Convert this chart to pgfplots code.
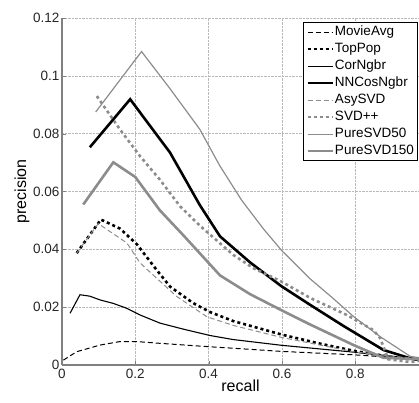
\documentclass[border=0pt]{standalone}
\usepackage{pgfplots}
\pgfplotsset{compat=1.18}
\usepackage{fontspec}
\setmainfont{Liberation Sans}
\definecolor{lg}{RGB}{140,140,140}
\begin{document}
\begin{tikzpicture}
\path[use as bounding box] (-62pt,-37pt) rectangle (357pt,365pt);
\begin{axis}[
  at={(0,0)}, anchor=south west,
  scale only axis, width=357pt, height=347pt,
  xmin=0, xmax=0.974, ymin=0, ymax=0.12,
  axis lines=left, axis line style={-, draw=gray, line width=1.2pt},
  xtick={0,0.2,0.4,0.6,0.8}, ytick={0,0.02,0.04,0.06,0.08,0.1,0.12},
  scaled y ticks=false, scaled x ticks=false,
  /pgf/number format/fixed, /pgf/number format/precision=2,
  /pgf/number format/assume math mode=true,
  tick label style={font=\fontsize{13.5}{15}\selectfont, text=black!85},
  xticklabel style={yshift=-1pt},
  yticklabel style={xshift=1pt},
  xlabel={recall}, ylabel={precision},
  label style={font=\fontsize{16}{18}\selectfont},
  xlabel style={yshift=6pt},
  ylabel style={yshift=-3pt},
  grid=major, grid style={densely dotted, gray!55, line width=0.6pt},
  tick style={draw=gray}, tick align=inside,
  legend style={at={(0.998,0.988)}, anchor=north east, draw=black, line width=1pt,
    font=\fontsize{13.5}{15}\selectfont, inner xsep=3pt, inner ysep=1pt, row sep=0pt,
    legend cell align=left, nodes={inner xsep=1pt, inner ysep=2pt, text height=10pt, text depth=3pt}},
  legend image code/.code={\draw[#1] (0pt,0pt) -- (25pt,0pt);},
]
\addplot[black, line width=1pt, dash pattern=on 5pt off 3pt] coordinates {
(0.004,0.0017)(0.04,0.0046)(0.104,0.0069)(0.158,0.0081)(0.204,0.0081)(0.267,0.0075)(0.404,0.0063)(0.467,0.0058)(0.6,0.0047)(0.8,0.0035)(0.975,0.002)};
\addlegendentry{MovieAvg}
\addplot[black, line width=2.6pt, dash pattern=on 3pt off 3pt] coordinates {
(0.04,0.0387)(0.106,0.0503)(0.158,0.0472)(0.204,0.0418)(0.258,0.0329)(0.295,0.0271)(0.358,0.0214)(0.404,0.0183)(0.467,0.0152)(0.6,0.0105)(0.7,0.0075)(0.8,0.0048)(0.913,0.0025)(0.975,0.0018)};
\addlegendentry{TopPop}
\addplot[black, line width=1.1pt] coordinates {
(0.022,0.0179)(0.049,0.0243)(0.076,0.0238)(0.104,0.0225)(0.14,0.0213)(0.177,0.0196)(0.213,0.0173)(0.267,0.0145)(0.331,0.0124)(0.404,0.0102)(0.467,0.0088)(0.6,0.0068)(0.8,0.0044)(0.975,0.002)};
\addlegendentry{CorNgbr}
\addplot[black, line width=2.6pt] coordinates {
(0.076,0.0753)(0.186,0.0919)(0.295,0.0734)(0.376,0.0553)(0.431,0.0445)(0.513,0.0355)(0.598,0.0273)(0.677,0.0208)(0.768,0.0135)(0.877,0.0052)(0.95,0.0023)(0.975,0.0017)};
\addlegendentry{NNCosNgbr}
\addplot[lg, line width=1pt, dash pattern=on 5pt off 3pt] coordinates {
(0.04,0.0387)(0.099,0.0489)(0.177,0.0422)(0.213,0.0353)(0.267,0.0290)(0.313,0.0237)(0.395,0.0167)(0.467,0.0137)(0.6,0.0095)(0.8,0.0045)(0.975,0.002)};
\addlegendentry{AsySVD}
\addplot[lg, line width=2.6pt, dash pattern=on 3pt off 3pt] coordinates {
(0.095,0.093)(0.158,0.0815)(0.213,0.0722)(0.267,0.0641)(0.322,0.0549)(0.376,0.0482)(0.467,0.0381)(0.522,0.0335)(0.598,0.0289)(0.677,0.0232)(0.777,0.0173)(0.849,0.0121)(0.868,0.0093)(0.89,0.002)(0.95,0.001)(0.975,0.0015)};
\addlegendentry{SVD++}
\addplot[lg, line width=1.2pt] coordinates {
(0.092,0.0875)(0.217,0.1084)(0.295,0.0955)(0.376,0.0815)(0.43,0.069)(0.49,0.057)(0.55,0.047)(0.6,0.0395)(0.677,0.0298)(0.74,0.023)(0.795,0.0168)(0.868,0.0098)(0.95,0.003)(0.975,0.0025)};
\addlegendentry{PureSVD50}
\addplot[lg, line width=2.6pt] coordinates {
(0.058,0.0555)(0.14,0.0701)(0.2,0.065)(0.267,0.0535)(0.33,0.045)(0.395,0.036)(0.431,0.031)(0.513,0.0245)(0.598,0.019)(0.677,0.014)(0.797,0.0068)(0.877,0.0025)(0.975,0.002)};
\addlegendentry{PureSVD150}
\end{axis}
\end{tikzpicture}
\end{document}
